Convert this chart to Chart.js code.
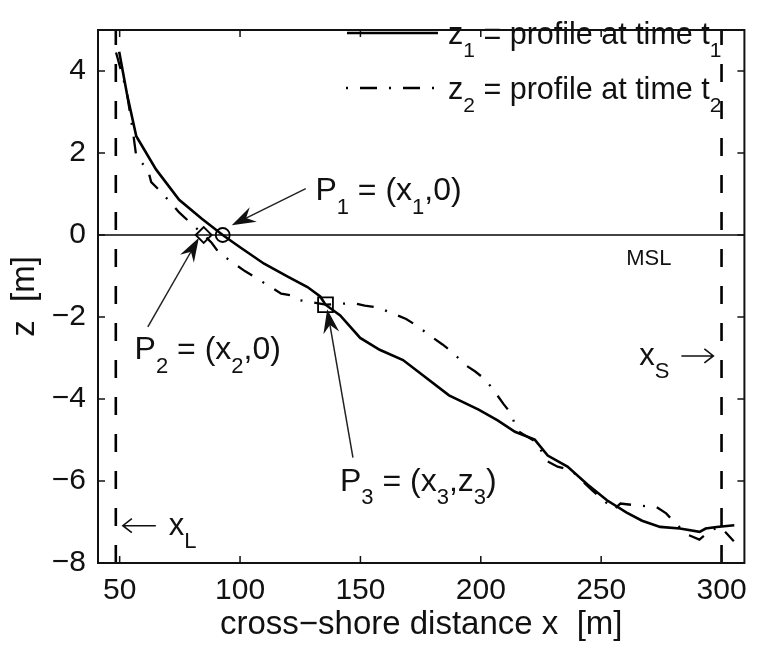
<!DOCTYPE html>
<html>
<head>
<meta charset="utf-8">
<script src="https://cdn.jsdelivr.net/npm/chart.js@4.4.0/dist/chart.umd.min.js"></script>
<style>
  html, body { margin: 0; padding: 0; background: #fff; }
  #wrap { width: 757px; height: 649px; }
</style>
</head>
<body>
<div id="wrap"><canvas id="profileChart"></canvas></div>
<script>
// profile z1 at time t1 (cross-shore distance / elevation)
const z1X = [49.8, 53, 56.9, 65.1, 74.7, 84, 92.8, 100, 110, 120, 128, 133.3, 135.5, 141.6, 149.9, 158, 167.7,
  186.8, 199.1, 207, 214.2, 222.4, 227.8, 236, 244.2, 252.4, 260.6, 267, 274.5, 282.7, 290.9, 293.4, 298, 305.3];
const z1Z = [4.47, 3.45, 2.41, 1.6, 0.86, 0.4, 0, -0.3, -0.7, -1.02, -1.27, -1.5, -1.7, -1.96, -2.51, -2.8, -3.05,
  -3.91, -4.26, -4.52, -4.8, -4.99, -5.38, -5.65, -6.08, -6.47, -6.77, -6.97, -7.12, -7.16, -7.24, -7.16, -7.12, -7.08];

// profile z2 at time t2
const z2X = [48.5, 52.8, 55.5, 56.9, 61.7, 63.1, 66.5, 71.3, 74.7, 84.9, 88.2, 91.1, 96.4, 102, 106.2, 117.1, 121.2,
  123.9, 135.5, 147.2, 151.8, 157.4, 164.2, 169, 173.1, 179.3, 184.1, 188.2, 193.6, 197.7, 201.8, 205.9, 209.4,
  212.8, 214.8, 223.5, 227.1, 231.9, 237.4, 242.2, 246.3, 251.1, 255.2, 258, 265.5, 272.9, 277, 281.1, 286,
  290.8, 295.5, 299.6, 305.1];
const z2Z = [4.45, 3.53, 2.53, 1.91, 1.6, 1.29, 1.09, 0.78, 0.55, 0, -0.19, -0.42, -0.65, -0.88, -1.03, -1.43, -1.47,
  -1.58, -1.7, -1.66, -1.72, -1.77, -1.93, -2.05, -2.2, -2.47, -2.67, -2.86, -3.17, -3.33, -3.52, -3.83, -4.12,
  -4.37, -4.76, -5.07, -5.5, -5.65, -5.73, -6.0, -6.23, -6.47, -6.7, -6.55, -6.6, -6.63, -6.79, -7.05, -7.31,
  -7.43, -7.2, -7.12, -7.47];

// marked points P1, P2, P3
const pointX = [92.8, 84.9, 135.5];
const pointZ = [0, 0, -1.7];

// landward / seaward limits
const xLimits = [48.4, 300];

const xTicks = [50, 100, 150, 200, 250, 300];
const zTicks = [-8, -6, -4, -2, 0, 2, 4];
const xRange = [41, 309.5];
const zRange = [-8, 5];

const FONT = "'Liberation Sans', Arial, Helvetica, sans-serif";
const INK = '#111';

function toXY(xs, ys) {
  return xs.map((x, i) => ({ x: x, y: ys[i] }));
}

// text with TeX-like subscripts: parts = [[text, isSub], ...]; returns end x
function drawParts(ctx, x, y, parts, size) {
  const subSize = Math.round(size * 0.7);
  parts.forEach(function (p) {
    ctx.font = (p[1] ? subSize : size) + 'px ' + FONT;
    ctx.fillText(p[0], x, y + (p[1] ? size * 0.42 : 0));
    x += ctx.measureText(p[0]).width;
  });
  return x;
}

// thin text-style arrow (like the -> glyph)
function drawThinArrow(ctx, x0, x1, y) {
  const d = x1 > x0 ? 1 : -1;
  ctx.beginPath();
  ctx.moveTo(x0, y);
  ctx.lineTo(x1, y);
  ctx.moveTo(x1 - d * 9, y - 7);
  ctx.lineTo(x1, y);
  ctx.lineTo(x1 - d * 9, y + 7);
  ctx.stroke();
}

function drawArrow(ctx, x0, y0, x1, y1) {
  const ang = Math.atan2(y1 - y0, x1 - x0);
  const L = 24, W = 8, N = 8;
  ctx.beginPath();
  ctx.moveTo(x0, y0);
  ctx.lineTo(x1 - Math.cos(ang) * (L - N), y1 - Math.sin(ang) * (L - N));
  ctx.stroke();
  ctx.save();
  ctx.translate(x1, y1);
  ctx.rotate(ang);
  ctx.beginPath();
  ctx.moveTo(0, 0);
  ctx.lineTo(-L, -W);
  ctx.lineTo(-L + N, 0);
  ctx.lineTo(-L, W);
  ctx.closePath();
  ctx.fill();
  ctx.restore();
}

// annotation arrows, data coords [tailX, tailZ, tipX, tipZ]
const arrows = [
  [127.3, 1.13, 96.55, 0.24],
  [61.7, -2.24, 82.9, -0.07],
  [146.9, -5.43, 136.2, -1.81]
];

const decor = {
  id: 'decor',
  beforeDatasetsDraw(chart) {
    const { ctx, chartArea, scales } = chart;
    const y0 = scales.y.getPixelForValue(0);
    ctx.save();
    ctx.strokeStyle = '#444';
    ctx.lineWidth = 1.8;
    ctx.beginPath();
    ctx.moveTo(chartArea.left, y0);
    ctx.lineTo(chartArea.right, y0);
    ctx.stroke();
    ctx.restore();
  },
  afterDatasetsDraw(chart) {
    const { ctx, chartArea: a, scales } = chart;
    const sx = v => scales.x.getPixelForValue(v);
    const sy = v => scales.y.getPixelForValue(v);
    ctx.save();

    // box and inward ticks
    ctx.strokeStyle = INK;
    ctx.lineWidth = 2;
    ctx.strokeRect(a.left, a.top, a.right - a.left, a.bottom - a.top);
    ctx.lineWidth = 1.5;
    ctx.beginPath();
    xTicks.forEach(function (v) {
      const px = sx(v);
      ctx.moveTo(px, a.bottom); ctx.lineTo(px, a.bottom - 7);
      ctx.moveTo(px, a.top); ctx.lineTo(px, a.top + 7);
    });
    zTicks.forEach(function (v) {
      const py = sy(v);
      ctx.moveTo(a.left, py); ctx.lineTo(a.left + 7, py);
      ctx.moveTo(a.right, py); ctx.lineTo(a.right - 7, py);
    });
    ctx.stroke();

    // legend
    ctx.strokeStyle = '#000';
    ctx.lineWidth = 2.6;
    ctx.beginPath(); ctx.moveTo(347, 33); ctx.lineTo(438, 33); ctx.stroke();
    ctx.lineWidth = 2.3;
    ctx.setLineDash([2, 12, 17, 12]);
    ctx.beginPath(); ctx.moveTo(346, 88); ctx.lineTo(438, 88); ctx.stroke();
    ctx.setLineDash([]);
    ctx.fillStyle = INK;
    ctx.textBaseline = 'alphabetic';
    ctx.textAlign = 'left';
    drawParts(ctx, 448, 44, [['z', false], ['1', true], [' = profile at time t', false], ['1', true]], 30.5);
    drawParts(ctx, 448, 99, [['z', false], ['2', true], [' = profile at time t', false], ['2', true]], 30.5);

    // arrows
    ctx.strokeStyle = '#222';
    ctx.fillStyle = '#111';
    ctx.lineWidth = 1.5;
    arrows.forEach(function (r) {
      drawArrow(ctx, sx(r[0]), sy(r[1]), sx(r[2]), sy(r[3]));
    });

    // labels
    ctx.fillStyle = INK;
    drawParts(ctx, sx(131.3), sy(0.85), [['P', false], ['1', true], [' = (x', false], ['1', true], [',0)', false]], 32);
    drawParts(ctx, sx(56.2), sy(-3.03), [['P', false], ['2', true], [' = (x', false], ['2', true], [',0)', false]], 32);
    drawParts(ctx, sx(141.5), sy(-6.24), [['P', false], ['3', true], [' = (x', false], ['3', true], [',z', false], ['3', true], [')', false]], 32);

    // x_S ->   and   <- x_L
    const sBase = sy(-3.17);
    const sEnd = drawParts(ctx, sx(265.8), sBase, [['x', false], ['S', true]], 31);
    ctx.strokeStyle = INK;
    ctx.lineWidth = 1.6;
    drawThinArrow(ctx, sEnd + 12, sEnd + 44, sBase - 9);
    const lBase = sy(-7.31);
    const lStart = sx(50.9);
    drawThinArrow(ctx, lStart + 34, lStart + 1, lBase - 9);
    drawParts(ctx, lStart + 47, lBase, [['x', false], ['L', true]], 31);

    ctx.font = '22px ' + FONT;
    ctx.fillText('MSL', sx(260.4), sy(-0.73));
    ctx.restore();
  }
};

new Chart(document.getElementById('profileChart'), {
  type: 'scatter',
  data: {
    datasets: [
      {
        label: 'z1',
        data: toXY(z1X, z1Z),
        showLine: true,
        borderColor: '#000',
        borderWidth: 2.6,
        pointRadius: 0
      },
      {
        label: 'z2',
        data: toXY(z2X, z2Z),
        showLine: true,
        borderColor: '#000',
        borderWidth: 2.3,
        borderDash: [17, 12, 2, 12],
        pointRadius: 0
      },
      {
        label: 'xL',
        data: toXY([xLimits[0], xLimits[0]], zRange),
        showLine: true,
        borderColor: '#000',
        borderWidth: 2.6,
        borderDash: [18, 19],
        pointRadius: 0
      },
      {
        label: 'xS',
        data: toXY([xLimits[1], xLimits[1]], zRange),
        showLine: true,
        borderColor: '#000',
        borderWidth: 2.6,
        borderDash: [18, 19],
        pointRadius: 0
      },
      {
        label: 'points',
        data: toXY(pointX, pointZ),
        showLine: false,
        pointStyle: ['circle', 'rectRot', 'rect'],
        pointRadius: [7, 8, 10.5],
        borderColor: '#000',
        borderWidth: 1.8,
        backgroundColor: 'rgba(0,0,0,0)'
      }
    ]
  },
  options: {
    responsive: true,
    maintainAspectRatio: false,
    animation: false,
    events: [],
    layout: { padding: { left: 0, right: 4, top: 4, bottom: 0 } },
    plugins: {
      legend: { display: false },
      tooltip: { enabled: false }
    },
    scales: {
      x: {
        type: 'linear',
        min: xRange[0],
        max: xRange[1],
        afterBuildTicks: function (s) { s.ticks = xTicks.map(v => ({ value: v })); },
        afterFit: function (s) { s.height = 86; },
        grid: { display: false, drawTicks: false },
        border: { display: false },
        ticks: {
          padding: 10,
          maxRotation: 0,
          autoSkip: false,
          color: INK,
          font: { family: FONT, size: 30 }
        },
        title: {
          display: true,
          text: 'cross\u2212shore distance x  [m]',
          color: INK,
          font: { family: FONT, size: 33 },
          padding: { top: 0, bottom: 4 }
        }
      },
      y: {
        type: 'linear',
        min: zRange[0],
        max: zRange[1],
        afterBuildTicks: function (s) { s.ticks = zTicks.map(v => ({ value: v })); },
        afterFit: function (s) { s.width = 98; },
        grid: { display: false, drawTicks: false },
        border: { display: false },
        ticks: {
          padding: 12,
          color: INK,
          font: { family: FONT, size: 30 },
          callback: function (value) { return String(value).replace('-', '\u2212'); }
        },
        title: {
          display: true,
          text: 'z  [m]',
          color: INK,
          font: { family: FONT, size: 33 },
          padding: { top: 5, bottom: 0 }
        }
      }
    }
  },
  plugins: [decor]
});
</script>
</body>
</html>
